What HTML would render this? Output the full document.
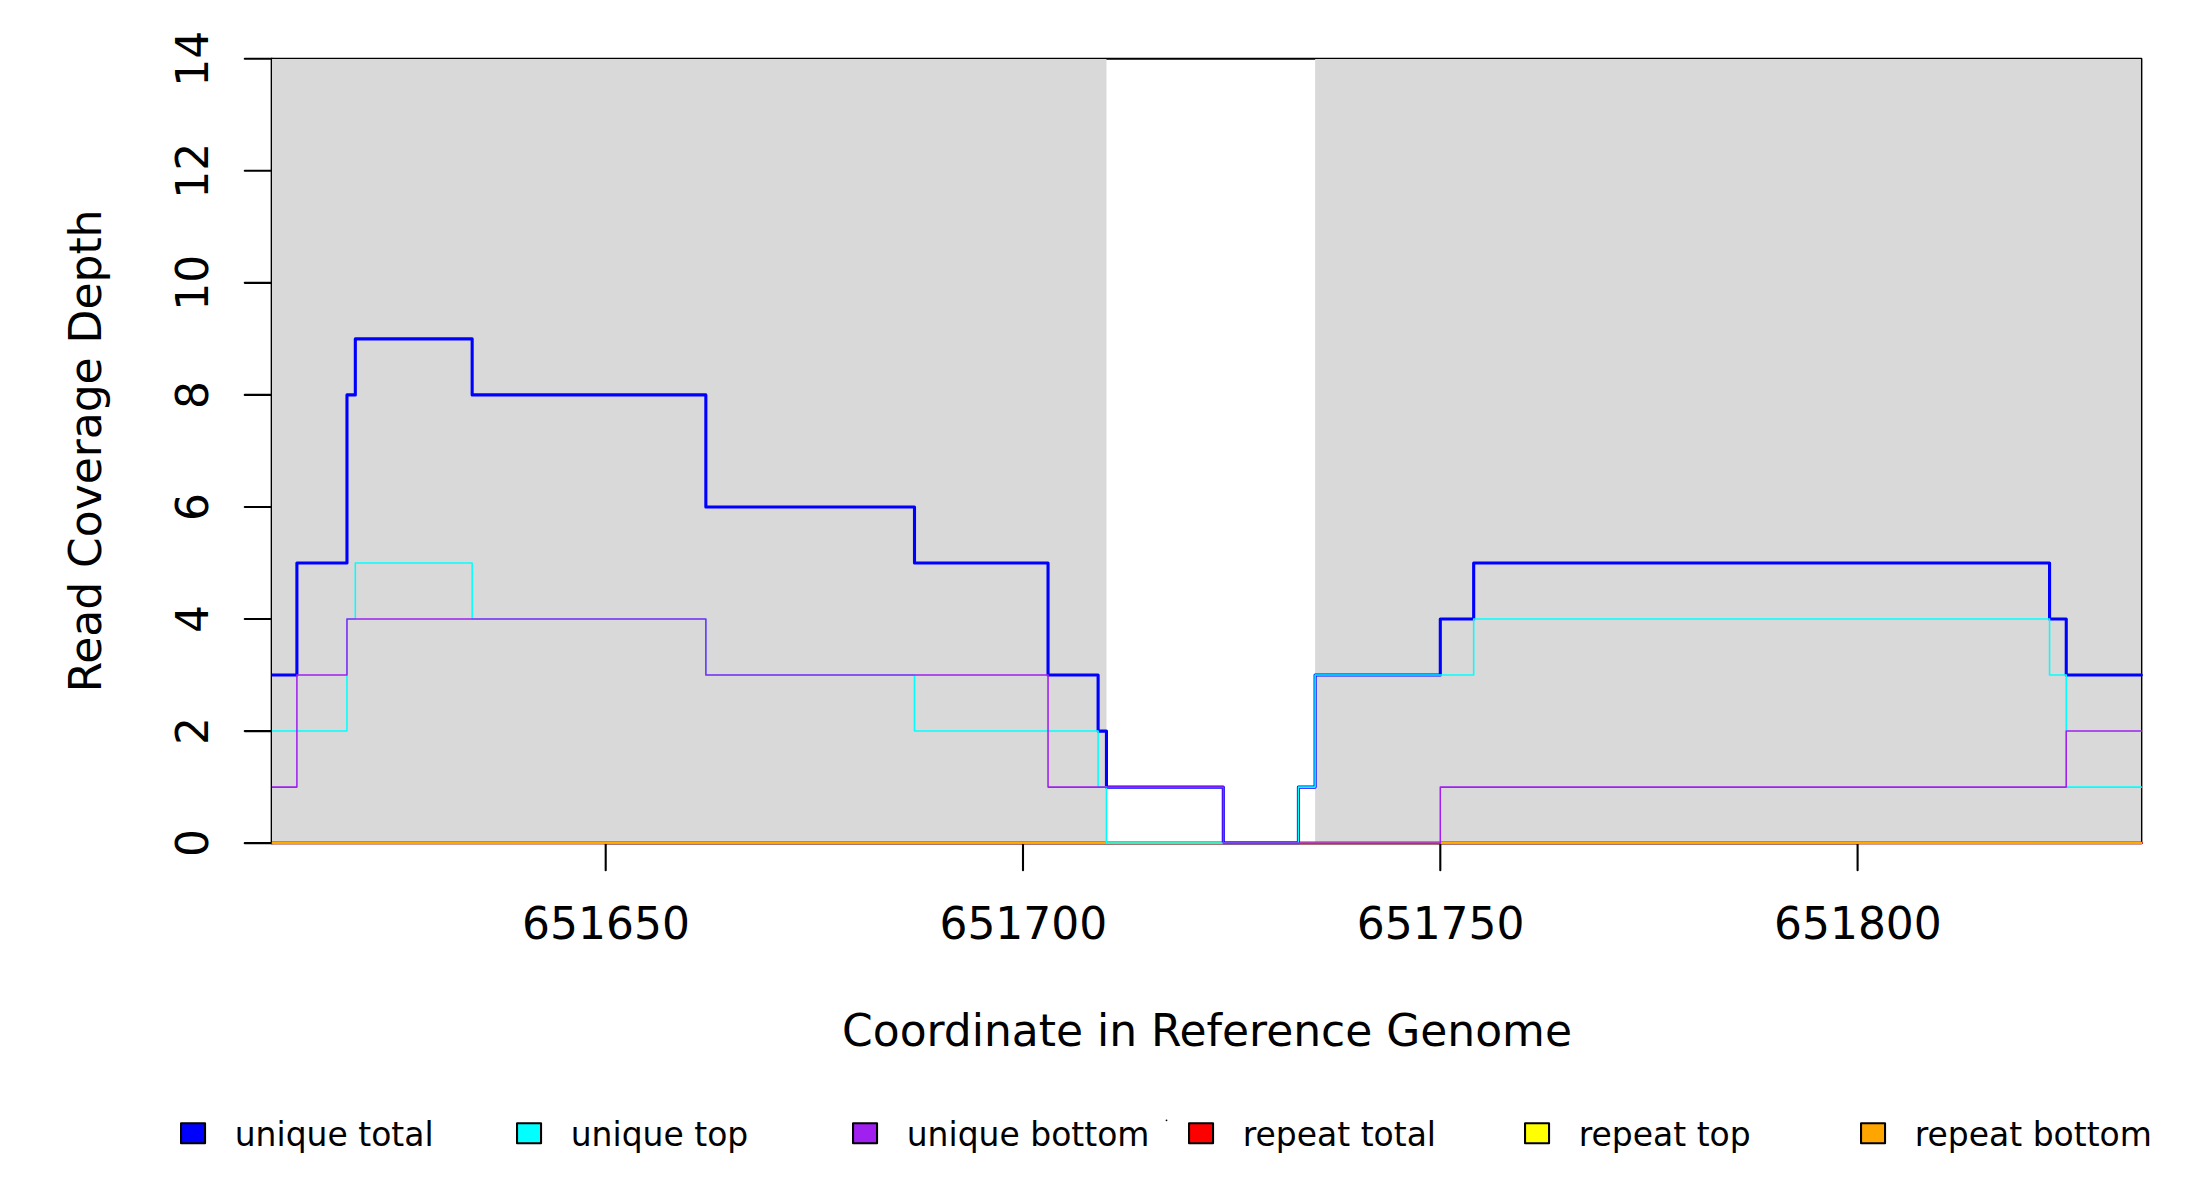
<!DOCTYPE html>
<html><head><meta charset="utf-8"><title>Read Coverage Depth</title>
<style>
html,body{margin:0;padding:0;background:#fff;}
body{width:2200px;height:1200px;overflow:hidden;}
svg{display:block;}
text{font-family:"DejaVu Sans", "Liberation Sans", sans-serif;fill:#000;}
.t{font-size:45.0px;}
.l{font-size:33.75px;}
.ln{fill:none;stroke-linejoin:round;stroke-linecap:round;}
</style></head><body>
<svg width="2200" height="1200" viewBox="0 0 2200 1200">
<rect x="0" y="0" width="2200" height="1200" fill="#ffffff"/>

<rect x="271.86" y="58.72" width="1869.50" height="784.56" fill="none" stroke="#000" stroke-width="2.1" stroke-linejoin="round"/>
<line x1="244.76" y1="843.14" x2="271.86" y2="843.14" stroke="#000" stroke-width="2.1" stroke-linecap="round"/>
<line x1="244.76" y1="731.08" x2="271.86" y2="731.08" stroke="#000" stroke-width="2.1" stroke-linecap="round"/>
<line x1="244.76" y1="619.02" x2="271.86" y2="619.02" stroke="#000" stroke-width="2.1" stroke-linecap="round"/>
<line x1="244.76" y1="506.96" x2="271.86" y2="506.96" stroke="#000" stroke-width="2.1" stroke-linecap="round"/>
<line x1="244.76" y1="394.90" x2="271.86" y2="394.90" stroke="#000" stroke-width="2.1" stroke-linecap="round"/>
<line x1="244.76" y1="282.84" x2="271.86" y2="282.84" stroke="#000" stroke-width="2.1" stroke-linecap="round"/>
<line x1="244.76" y1="170.78" x2="271.86" y2="170.78" stroke="#000" stroke-width="2.1" stroke-linecap="round"/>
<line x1="244.76" y1="58.72" x2="271.86" y2="58.72" stroke="#000" stroke-width="2.1" stroke-linecap="round"/>
<line x1="605.70" y1="843.14" x2="605.70" y2="870.24" stroke="#000" stroke-width="2.1" stroke-linecap="round"/>
<line x1="1023.00" y1="843.14" x2="1023.00" y2="870.24" stroke="#000" stroke-width="2.1" stroke-linecap="round"/>
<line x1="1440.30" y1="843.14" x2="1440.30" y2="870.24" stroke="#000" stroke-width="2.1" stroke-linecap="round"/>
<line x1="1857.60" y1="843.14" x2="1857.60" y2="870.24" stroke="#000" stroke-width="2.1" stroke-linecap="round"/>
<line x1="271.86" y1="843.14" x2="271.86" y2="58.72" stroke="#000" stroke-width="2.1" stroke-linecap="round"/>
<line x1="605.70" y1="843.14" x2="1857.60" y2="843.14" stroke="#000" stroke-width="2.1" stroke-linecap="round"/>
<rect x="272.00" y="59.00" width="834.46" height="784.14" fill="#d9d9d9"/>
<rect x="1315.11" y="59.00" width="825.85" height="784.14" fill="#d9d9d9"/>
<clipPath id="pc"><rect x="271.86" y="58.72" width="1871.10" height="785.58"/></clipPath>
<g clip-path="url(#pc)">
<path class="ln" d="M271.86 843.14 L2141.36 843.14" stroke="#ff0000" stroke-width="3.1"/>
<path class="ln" d="M271.86 843.14 L2141.36 843.14" stroke="#ffff00" stroke-width="1.56"/>
<path class="ln" d="M271.86 843.14 L2141.36 843.14" stroke="#ffa500" stroke-width="1.56"/>
<path class="ln" d="M271.86 675.05 L296.90 675.05 L296.90 562.99 L346.97 562.99 L346.97 394.90 L355.32 394.90 L355.32 338.87 L472.16 338.87 L472.16 394.90 L705.85 394.90 L705.85 506.96 L914.50 506.96 L914.50 562.99 L1048.04 562.99 L1048.04 675.05 L1098.11 675.05 L1098.11 731.08 L1106.46 731.08 L1106.46 787.11 L1223.30 787.11 L1223.30 843.14 L1298.42 843.14 L1298.42 787.11 L1315.11 787.11 L1315.11 675.05 L1440.30 675.05 L1440.30 619.02 L1473.68 619.02 L1473.68 562.99 L2049.56 562.99 L2049.56 619.02 L2066.25 619.02 L2066.25 675.05 L2141.36 675.05" stroke="#0000ff" stroke-width="3.1"/>
<path class="ln" d="M271.86 731.08 L346.97 731.08 L346.97 619.02 L355.32 619.02 L355.32 562.99 L472.16 562.99 L472.16 619.02 L705.85 619.02 L705.85 675.05 L914.50 675.05 L914.50 731.08 L1098.11 731.08 L1098.11 787.11 L1106.46 787.11 L1106.46 843.14 L1298.42 843.14 L1298.42 787.11 L1315.11 787.11 L1315.11 675.05 L1473.68 675.05 L1473.68 619.02 L2049.56 619.02 L2049.56 675.05 L2066.25 675.05 L2066.25 787.11 L2141.36 787.11" stroke="#00ffff" stroke-width="1.56"/>
<path class="ln" d="M271.86 787.11 L296.90 787.11 L296.90 675.05 L346.97 675.05 L346.97 619.02 L705.85 619.02 L705.85 675.05 L1048.04 675.05 L1048.04 787.11 L1223.30 787.11 L1223.30 843.14 L1440.30 843.14 L1440.30 787.11 L2066.25 787.11 L2066.25 731.08 L2141.36 731.08" stroke="#a020f0" stroke-width="1.56"/>
</g>
<text class="t" transform="translate(606.00 939) scale(0.977 1)" text-anchor="middle">651650</text>
<text class="t" transform="translate(1023.30 939) scale(0.977 1)" text-anchor="middle">651700</text>
<text class="t" transform="translate(1440.60 939) scale(0.977 1)" text-anchor="middle">651750</text>
<text class="t" transform="translate(1857.90 939) scale(0.977 1)" text-anchor="middle">651800</text>
<text class="t" transform="translate(208 843.14) rotate(-90) scale(0.977 1)" text-anchor="middle">0</text>
<text class="t" transform="translate(208 731.08) rotate(-90) scale(0.977 1)" text-anchor="middle">2</text>
<text class="t" transform="translate(208 619.02) rotate(-90) scale(0.977 1)" text-anchor="middle">4</text>
<text class="t" transform="translate(208 506.96) rotate(-90) scale(0.977 1)" text-anchor="middle">6</text>
<text class="t" transform="translate(208 394.90) rotate(-90) scale(0.977 1)" text-anchor="middle">8</text>
<text class="t" transform="translate(208 282.84) rotate(-90) scale(0.977 1)" text-anchor="middle">10</text>
<text class="t" transform="translate(208 170.78) rotate(-90) scale(0.977 1)" text-anchor="middle">12</text>
<text class="t" transform="translate(208 58.72) rotate(-90) scale(0.977 1)" text-anchor="middle">14</text>
<text class="t" transform="translate(1207.01 1045.9) scale(0.977 1)" text-anchor="middle">Coordinate in Reference Genome</text>
<text class="t" transform="translate(101 450.93) rotate(-90) scale(0.977 1)" text-anchor="middle">Read Coverage Depth</text>
<rect x="181.04" y="1123.3" width="24" height="20" fill="#0000ff" stroke="#000" stroke-width="2.08" stroke-linejoin="round"/>
<text class="l" transform="translate(234.70 1145.8) scale(0.977 1)">unique total</text>
<rect x="517.04" y="1123.3" width="24" height="20" fill="#00ffff" stroke="#000" stroke-width="2.08" stroke-linejoin="round"/>
<text class="l" transform="translate(570.70 1145.8) scale(0.977 1)">unique top</text>
<rect x="853.04" y="1123.3" width="24" height="20" fill="#a020f0" stroke="#000" stroke-width="2.08" stroke-linejoin="round"/>
<text class="l" transform="translate(906.70 1145.8) scale(0.977 1)">unique bottom</text>
<rect x="1189.04" y="1123.3" width="24" height="20" fill="#ff0000" stroke="#000" stroke-width="2.08" stroke-linejoin="round"/>
<text class="l" transform="translate(1242.70 1145.8) scale(0.977 1)">repeat total</text>
<rect x="1525.04" y="1123.3" width="24" height="20" fill="#ffff00" stroke="#000" stroke-width="2.08" stroke-linejoin="round"/>
<text class="l" transform="translate(1578.70 1145.8) scale(0.977 1)">repeat top</text>
<rect x="1861.04" y="1123.3" width="24" height="20" fill="#ffa500" stroke="#000" stroke-width="2.08" stroke-linejoin="round"/>
<text class="l" transform="translate(1914.70 1145.8) scale(0.977 1)">repeat bottom</text>
<circle cx="1166.5" cy="1120.3" r="0.9" fill="#000"/>
</svg></body></html>
